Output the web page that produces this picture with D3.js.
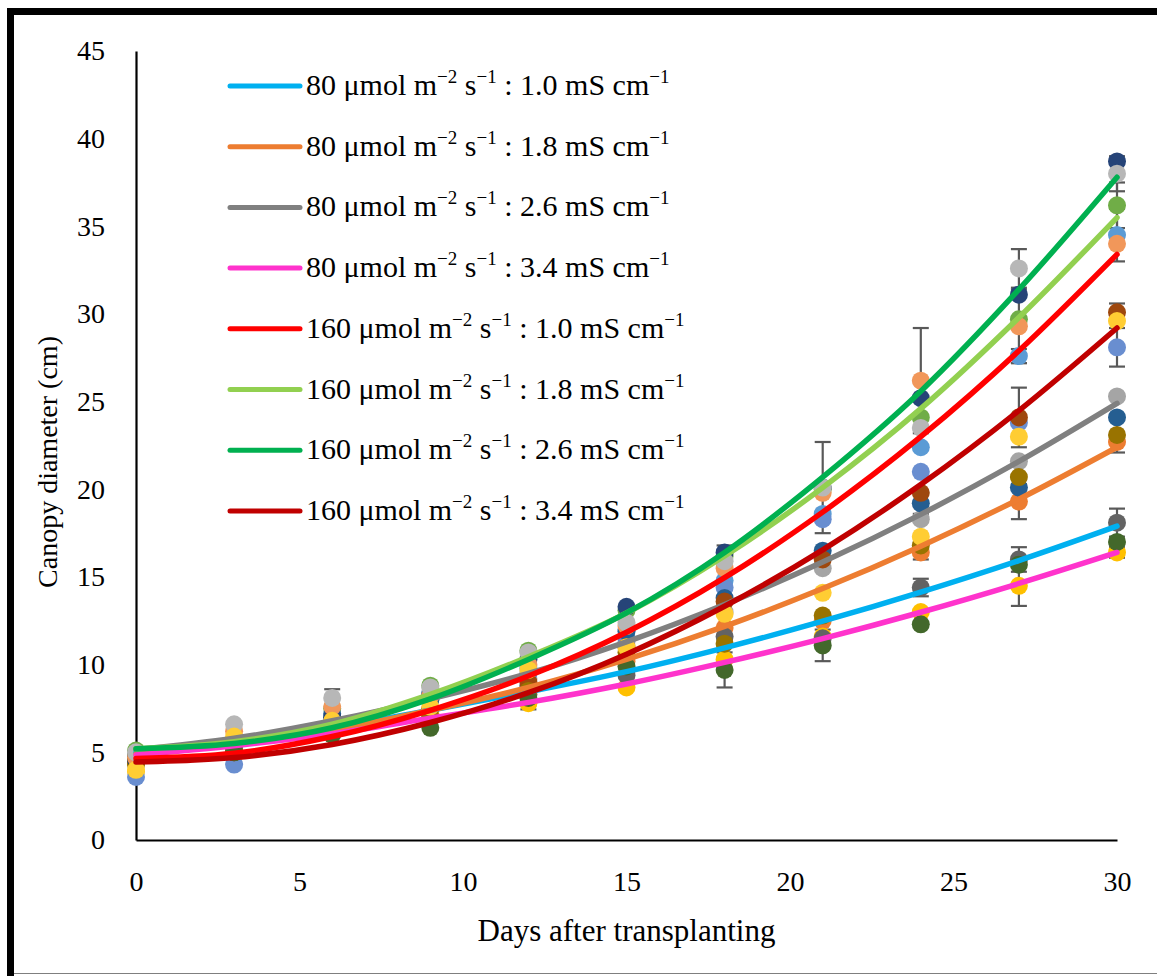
<!DOCTYPE html>
<html lang="en">
<head>
<meta charset="UTF-8" />
<title>Canopy diameter vs days after transplanting</title>
<style>
  html, body { margin:0; padding:0; background:#fff; }
  svg { display:block; font-family:"Liberation Serif", "Times New Roman", serif; }
</style>
</head>
<body>
<svg id="chart" width="1157" height="976"></svg>
<script src="https://d3js.org/d3.v7.min.js"></script>
<script>
// ---- data ----
const days = [0, 3, 6, 9, 12, 15, 18, 21, 24, 27, 30];
const xTicks = [0, 5, 10, 15, 20, 25, 30];
const yTicks = [0, 5, 10, 15, 20, 25, 30, 35, 40, 45];

// measured points (one array per plotted series, in drawing order)
const s1  = [4.8, 5.3, 7.0, 8.0, 9.8, 12.0, 14.8, 18.6, 22.4, 27.6, 34.5];
const s2  = [4.5, 5.4, 6.6, 7.4, 8.6, 10.2, 12.1, 12.5, 16.4, 19.3, 22.7];
const s3  = [4.9, 5.7, 6.8, 8.0, 9.2, 11.3, 13.0, 15.5, 18.3, 21.6, 25.3];
const s4  = [3.9, 4.8, 6.2, 7.2, 7.8, 8.7, 10.3, 11.6, 13.0, 14.5, 16.4];
const s5  = [3.6, 4.3, 6.4, 8.4, 9.5, 11.5, 14.4, 18.3, 21.0, 23.8, 28.1];
const s6  = [5.1, 5.5, 7.5, 8.8, 10.8, 13.1, 16.2, 20.0, 24.1, 29.7, 36.2];
const s7  = [4.5, 5.2, 7.2, 8.0, 8.8, 11.9, 13.8, 16.5, 19.2, 20.1, 24.1];
const s8  = [4.4, 5.0, 6.5, 7.5, 9.0, 11.0, 13.6, 16.0, 19.8, 24.1, 30.1];
const s9  = [4.8, 5.3, 6.2, 7.0, 8.3, 9.4, 11.6, 11.5, 14.4, 16.0, 18.1];
const s10 = [4.3, 5.1, 6.3, 7.0, 8.5, 10.7, 11.2, 12.8, 16.8, 20.7, 23.1];
const s11 = [4.6, 5.5, 7.0, 8.3, 10.3, 13.3, 16.4, 20.1, 25.2, 31.1, 38.7];
const s12 = [4.7, 5.0, 6.0, 6.4, 8.1, 9.9, 9.7, 11.1, 12.3, 15.7, 17.0];
const s13 = [4.7, 6.2, 7.6, 8.2, 10.0, 12.2, 15.5, 19.8, 26.2, 29.3, 34.0];
const s14 = [5.0, 6.6, 8.1, 8.7, 10.7, 12.4, 15.9, 20.1, 23.5, 32.6, 38.0];
const s15 = [4.0, 5.9, 6.8, 7.6, 9.7, 11.0, 12.9, 14.1, 17.3, 23.0, 29.6];

// error bars (+/-), 0 = none shown
const e1  = [0, 0, 0, 0, 0, 0, 0, 0, 0, 0.4, 1.5];
const e2  = [0, 0, 0, 0, 0, 0, 0, 0, 0, 1.0, 0];
const e4  = [0, 0, 0, 0, 0.35, 0, 0, 0, 0, 1.15, 0.3];
const e5  = [0, 0, 0, 0, 0, 0, 0, 0, 0, 0, 1.1];
const e6  = [0, 0, 0, 0, 0, 0, 0, 0, 0, 0, 1.3];
const e8  = [0, 0, 0, 0, 0, 0, 0, 0, 0, 1.7, 0.5];
const e9  = [0, 0, 0, 0, 0, 0, 0, 0, 0.5, 0.7, 0.8];
const e10 = [0, 0, 0, 0, 0, 0, 0, 0, 0, 0, 1.0];
const e11 = [0, 0, 0, 0, 0, 0, 0.4, 2.6, 0, 0, 0];
const e12 = [0, 0, 0, 0, 0, 0, 1.0, 0.9, 0, 0, 0];
const e13 = [0, 0, 0, 0, 0, 0, 0, 0, 3.0, 2.1, 0];
const e14 = [0, 0, 0.5, 0, 0, 0, 0, 0, 0, 1.1, 1.0];
const e15 = [0, 0, 0, 0, 0, 0, 0, 0, 1.3, 0, 0];

// polynomial trend lines
const t80_10  = [5.00, 5.62, 6.40, 7.40, 8.45, 9.60, 10.96, 12.48, 14.14, 15.94, 17.90];
const t80_18  = [4.90, 5.44, 6.26, 7.40, 8.70, 10.30, 12.18, 14.34, 16.76, 19.44, 22.40];
const t80_26  = [5.15, 5.80, 6.80, 8.05, 9.50, 11.30, 13.43, 15.85, 18.57, 21.59, 24.90];
const t80_34  = [4.85, 5.38, 6.06, 6.95, 7.85, 8.90, 10.13, 11.49, 12.99, 14.63, 16.40];
const t160_10 = [4.65, 4.95, 5.90, 7.40, 9.35, 11.85, 14.96, 18.70, 23.00, 27.90, 33.40];
const t160_18 = [5.20, 5.60, 6.60, 8.30, 10.45, 12.95, 16.20, 20.10, 24.60, 29.80, 35.50];
const t160_26 = [5.20, 5.50, 6.40, 8.05, 10.30, 12.95, 16.40, 20.70, 25.60, 31.40, 37.80];
const t160_34 = [4.45, 4.70, 5.45, 6.70, 8.40, 10.60, 13.33, 16.55, 20.27, 24.49, 29.20];

const trendPPFD = ["80", "80", "80", "80", "160", "160", "160", "160"];
const trendEC   = ["1.0", "1.8", "2.6", "3.4", "1.0", "1.8", "2.6", "3.4"];

// ---- styles ----
const pointColors = ["#5B9BD5", "#ED7D31", "#A5A5A5", "#FFC000", "#698ED0", "#70AD47", "#255E91",
  "#9E480E", "#636363", "#997300", "#264478", "#43682B", "#F1975A", "#B7B7B7", "#FFCD33"];
const trendColors = ["#00B0F0", "#ED7D31", "#808080", "#FF33CC", "#FF0000", "#92D050", "#00B050", "#C00000"];

const pointSets = [s1, s2, s3, s4, s5, s6, s7, s8, s9, s10, s11, s12, s13, s14, s15];
const zero = days.map(() => 0);
const errSets = [e1, e2, zero, e4, e5, e6, zero, e8, e9, e10, e11, e12, e13, e14, e15];
const trendSets = [t80_10, t80_18, t80_26, t80_34, t160_10, t160_18, t160_26, t160_34];

// ---- layout ----
const svg = d3.select('#chart');
const x = d3.scaleLinear().domain([0, 30]).range([136, 1117]);
const y = d3.scaleLinear().domain([0, 45]).range([840, 51]);

// outer frame (black bars on top/left, thin grey on bottom)
svg.append('rect').attr('x', 7).attr('y', 8).attr('width', 1150).attr('height', 7).attr('fill', '#000');
svg.append('rect').attr('x', 7).attr('y', 8).attr('width', 7).attr('height', 968).attr('fill', '#000');
svg.append('line').attr('x1', 14).attr('x2', 1157).attr('y1', 973.5).attr('y2', 973.5)
  .attr('stroke', '#7f7f7f').attr('stroke-width', 1);

// axes
const yAxis = svg.append('g').attr('transform', 'translate(136,0)')
  .call(d3.axisLeft(y).tickValues(yTicks).tickSize(0).tickSizeOuter(0).tickPadding(31).tickFormat(d3.format('d')));
const xAxis = svg.append('g').attr('transform', 'translate(0,840)')
  .call(d3.axisBottom(x).tickValues(xTicks).tickSize(0).tickSizeOuter(0).tickPadding(31).tickFormat(d3.format('d')));
[yAxis, xAxis].forEach(a => {
  a.select('.domain').attr('stroke', '#000').attr('stroke-width', 2.2);
  a.selectAll('text').attr('font-family', '"Liberation Serif", serif').attr('font-size', 28).attr('fill', '#000');
});

svg.append('text')
  .attr('transform', 'translate(57,462) rotate(-90)')
  .attr('text-anchor', 'middle')
  .attr('font-size', 28)
  .text('Canopy diameter (cm)');
svg.append('text')
  .attr('x', x(15)).attr('y', 941)
  .attr('text-anchor', 'middle')
  .attr('font-size', 31)
  .text('Days after transplanting');

// error bars (behind markers)
const errG = svg.append('g').attr('stroke', '#595959').attr('stroke-width', 2.2).attr('fill', 'none');
pointSets.forEach((vals, si) => {
  vals.forEach((v, i) => {
    const e = errSets[si][i];
    if (!e) return;
    const cx = x(days[i]);
    errG.append('line').attr('x1', cx).attr('x2', cx).attr('y1', y(v - e)).attr('y2', y(v + e));
    [v - e, v + e].forEach(w => {
      errG.append('line').attr('x1', cx - 8).attr('x2', cx + 8).attr('y1', y(w)).attr('y2', y(w));
    });
  });
});

// markers
pointSets.forEach((vals, si) => {
  svg.append('g').selectAll('circle')
    .data(vals)
    .join('circle')
    .attr('cx', (d, i) => x(days[i]))
    .attr('cy', d => y(d))
    .attr('r', 9)
    .attr('fill', pointColors[si]);
});

// trend lines
const line = d3.line().x((d, i) => x(days[i])).y(d => y(d)).curve(d3.curveMonotoneX);
trendSets.forEach((vals, ti) => {
  svg.append('path')
    .attr('d', line(vals))
    .attr('fill', 'none')
    .attr('stroke', trendColors[ti])
    .attr('stroke-width', 5.5)
    .attr('stroke-linecap', 'round');
});

// legend
const legend = svg.append('g').attr('transform', 'translate(228,86)');
trendSets.forEach((vals, ti) => {
  const row = legend.append('g').attr('transform', `translate(0,${ti * 60.7})`);
  row.append('line').attr('x1', 2).attr('x2', 72).attr('y1', 0).attr('y2', 0)
    .attr('stroke', trendColors[ti]).attr('stroke-width', 5).attr('stroke-linecap', 'round');
  const t = row.append('text').attr('x', 78).attr('y', 9).attr('font-size', 30).attr('fill', '#000');
  const sup = s => {
    t.append('tspan').attr('font-size', 19).attr('dy', -12).text(s);
    return t;
  };
  t.append('tspan').text(`${trendPPFD[ti]} \u03bcmol m`);
  sup('\u22122');
  t.append('tspan').attr('dy', 12).text(' s');
  sup('\u22121');
  t.append('tspan').attr('dy', 12).text(` : ${trendEC[ti]} mS cm`);
  sup('\u22121');
});
</script>
</body>
</html>
